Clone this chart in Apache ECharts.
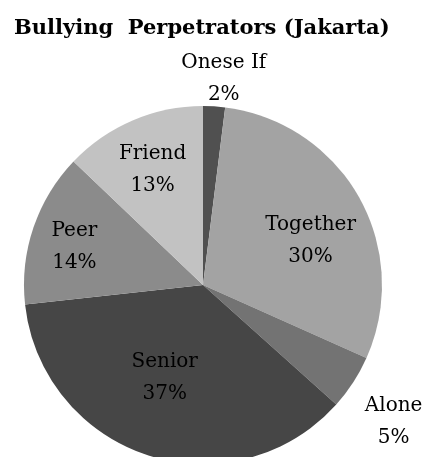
<!DOCTYPE html>
<html>
<head>
<meta charset="utf-8">
<script src="https://cdn.jsdelivr.net/npm/echarts@6/dist/echarts.min.js"></script>
<style>html,body{margin:0;padding:0;background:#fff}#c{width:430px;height:457px}</style>
</head>
<body>
<div id="c"></div>
<script>
const categories = ['Onese If', 'Together', 'Alone', 'Senior', 'Peer', 'Friend'];
const values = [2, 30, 5, 37, 14, 13];
const colors = ['#505050', '#a3a3a3', '#737373', '#464646', '#8b8b8b', '#c2c2c2'];
const labelOffsets = [[15, -114], [27, 1], [113, 86], [-10, 5], [-41, -9], [-14, -30]];

const FONT = '"DejaVu Serif", "Liberation Serif", serif';
const chart = echarts.init(document.getElementById('c'), null, {renderer: 'canvas'});
chart.setOption({
  animation: false,
  backgroundColor: '#fff',
  title: {
    text: 'Bullying  Perpetrators (Jakarta)',
    left: 14, top: 18, padding: 0,
    textStyle: {fontFamily: FONT, fontWeight: 'bold', fontSize: 21, color: '#000'}
  },
  series: [{
    type: 'pie',
    center: [203, 285],
    radius: [0, 179],
    startAngle: 90,
    clockwise: true,
    avoidLabelOverlap: false,
    itemStyle: {borderWidth: 0},
    label: {
      position: 'inside',
      formatter: p => p.name + '\n' + p.value + '%',
      fontFamily: FONT, fontSize: 20, lineHeight: 32, color: '#000'
    },
    labelLine: {show: false},
    data: categories.map((n, i) => ({
      name: n, value: values[i],
      itemStyle: {color: colors[i]},
      label: {offset: labelOffsets[i]}
    }))
  }]
});
</script>
</body>
</html>
